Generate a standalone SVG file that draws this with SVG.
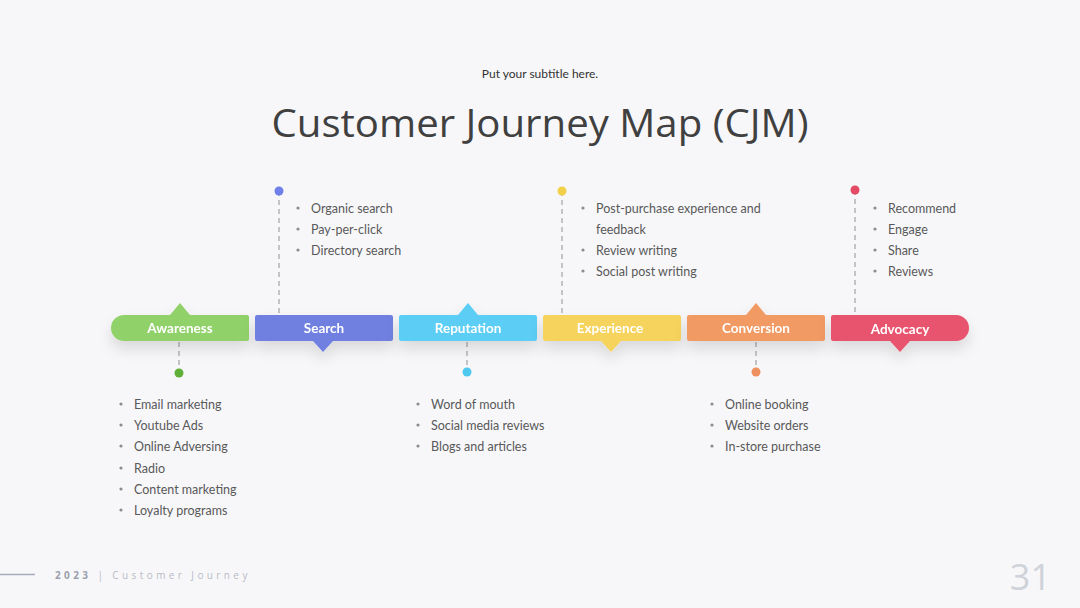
<svg xmlns="http://www.w3.org/2000/svg" width="1080" height="608" viewBox="0 0 1080 608">
<defs>
<filter id="sh" x="-20%" y="-60%" width="140%" height="260%">
<feDropShadow dx="0" dy="8" stdDeviation="7" flood-color="#000" flood-opacity="0.12"/>
</filter>
<style>
.lbl{font-family:"Lato","Open Sans",sans-serif;font-size:13.5px;font-weight:bold;fill:#fff;text-anchor:middle}
.li{font-family:"Lato","Open Sans",sans-serif;font-size:12.5px;fill:#595959}
.bul{fill:#8c8c8c}
.dash{stroke:#b4b4b8;stroke-width:1.5;stroke-dasharray:5 4;fill:none}
</style>
</defs>
<rect width="1080" height="608" fill="#f7f7f9"/>
<text x="540" y="78" font-family="Lato,'Open Sans',sans-serif" font-size="12" fill="#333" text-anchor="middle">Put your subtitle here.</text>
<text x="540" y="137" font-family="'Open Sans',sans-serif" font-size="39" fill="#404040" text-anchor="middle" textLength="537" lengthAdjust="spacingAndGlyphs">Customer Journey Map (CJM)</text>

<g id="connectors">
<line class="dash" x1="179" y1="342" x2="179" y2="373"/>
<line class="dash" x1="279" y1="191" x2="279" y2="315"/>
<line class="dash" x1="467" y1="342" x2="467" y2="372"/>
<line class="dash" x1="562" y1="191" x2="562" y2="315"/>
<line class="dash" x1="756" y1="342" x2="756" y2="372"/>
<line class="dash" x1="855" y1="190" x2="855" y2="315"/>
<circle cx="179" cy="373" r="4.5" fill="#5fb03a"/>
<circle cx="279" cy="191" r="4.5" fill="#6f80e8"/>
<circle cx="467" cy="372" r="4.5" fill="#4fc8f0"/>
<circle cx="562" cy="191" r="4.5" fill="#f2d04a"/>
<circle cx="756" cy="372" r="4.5" fill="#ef9060"/>
<circle cx="855" cy="190" r="4.5" fill="#e44a64"/>
</g>

<g id="awareness" filter="url(#sh)">
<path d="M124,315 H170 L180,303 L190,315 H247 a2,2 0 0 1 2,2 V339 a2,2 0 0 1 -2,2 H124 a13,13 0 0 1 0,-26 Z" fill="#91d16b"/>
<text class="lbl" x="180" y="333">Awareness</text>
</g>
<g id="search" filter="url(#sh)">
<path d="M257,315 H391 a2,2 0 0 1 2,2 V339 a2,2 0 0 1 -2,2 H333 L323,352 L313,341 H257 a2,2 0 0 1 -2,-2 V317 a2,2 0 0 1 2,-2 Z" fill="#7080e0"/>
<text class="lbl" x="324" y="333">Search</text>
</g>
<g id="reputation" filter="url(#sh)">
<path d="M401,315 H458 L468,303 L478,315 H535 a2,2 0 0 1 2,2 V339 a2,2 0 0 1 -2,2 H401 a2,2 0 0 1 -2,-2 V317 a2,2 0 0 1 2,-2 Z" fill="#5bcdf5"/>
<text class="lbl" x="468" y="333">Reputation</text>
</g>
<g id="experience" filter="url(#sh)">
<path d="M545,315 H679 a2,2 0 0 1 2,2 V339 a2,2 0 0 1 -2,2 H621 L611,352 L601,341 H545 a2,2 0 0 1 -2,-2 V317 a2,2 0 0 1 2,-2 Z" fill="#f5d35b"/>
<text class="lbl" x="610" y="333">Experience</text>
</g>
<g id="conversion" filter="url(#sh)">
<path d="M689,315 H746 L756,303 L766,315 H823 a2,2 0 0 1 2,2 V339 a2,2 0 0 1 -2,2 H689 a2,2 0 0 1 -2,-2 V317 a2,2 0 0 1 2,-2 Z" fill="#f29a63"/>
<text class="lbl" x="756" y="333">Conversion</text>
</g>
<g id="advocacy" filter="url(#sh)">
<path d="M833,315 H956 a13,13 0 0 1 0,26 H910 L900,352 L890,341 H833 a2,2 0 0 1 -2,-2 V317 a2,2 0 0 1 2,-2 Z" fill="#e8536e"/>
<text class="lbl" x="900" y="334">Advocacy</text>
</g>

<g id="list-search">
<circle class="bul" cx="298" cy="208" r="1.6"/><text class="li" x="311" y="213">Organic search</text>
<circle class="bul" cx="298" cy="229" r="1.6"/><text class="li" x="311" y="234">Pay-per-click</text>
<circle class="bul" cx="298" cy="250" r="1.6"/><text class="li" x="311" y="255">Directory search</text>
</g>
<g id="list-experience">
<circle class="bul" cx="583" cy="208" r="1.6"/><text class="li" x="596" y="213">Post-purchase experience and</text>
<text class="li" x="596" y="234">feedback</text>
<circle class="bul" cx="583" cy="250" r="1.6"/><text class="li" x="596" y="255">Review writing</text>
<circle class="bul" cx="583" cy="271" r="1.6"/><text class="li" x="596" y="276">Social post writing</text>
</g>
<g id="list-advocacy">
<circle class="bul" cx="875" cy="208" r="1.6"/><text class="li" x="888" y="213">Recommend</text>
<circle class="bul" cx="875" cy="229" r="1.6"/><text class="li" x="888" y="234">Engage</text>
<circle class="bul" cx="875" cy="250" r="1.6"/><text class="li" x="888" y="255">Share</text>
<circle class="bul" cx="875" cy="271" r="1.6"/><text class="li" x="888" y="276">Reviews</text>
</g>
<g id="list-awareness">
<circle class="bul" cx="121" cy="404" r="1.6"/><text class="li" x="134" y="409">Email marketing</text>
<circle class="bul" cx="121" cy="425" r="1.6"/><text class="li" x="134" y="430">Youtube Ads</text>
<circle class="bul" cx="121" cy="446" r="1.6"/><text class="li" x="134" y="451">Online Adversing</text>
<circle class="bul" cx="121" cy="468" r="1.6"/><text class="li" x="134" y="473">Radio</text>
<circle class="bul" cx="121" cy="489" r="1.6"/><text class="li" x="134" y="494">Content marketing</text>
<circle class="bul" cx="121" cy="510" r="1.6"/><text class="li" x="134" y="515">Loyalty programs</text>
</g>
<g id="list-reputation">
<circle class="bul" cx="418" cy="404" r="1.6"/><text class="li" x="431" y="409">Word of mouth</text>
<circle class="bul" cx="418" cy="425" r="1.6"/><text class="li" x="431" y="430">Social media reviews</text>
<circle class="bul" cx="418" cy="446" r="1.6"/><text class="li" x="431" y="451">Blogs and articles</text>
</g>
<g id="list-conversion">
<circle class="bul" cx="712" cy="404" r="1.6"/><text class="li" x="725" y="409">Online booking</text>
<circle class="bul" cx="712" cy="425" r="1.6"/><text class="li" x="725" y="430">Website orders</text>
<circle class="bul" cx="712" cy="446" r="1.6"/><text class="li" x="725" y="451">In-store purchase</text>
</g>

<g id="footer">
<line x1="0" y1="574.5" x2="35" y2="574.5" stroke="#a4abbb" stroke-width="1.5"/>
<text x="55" y="579" font-family="'Open Sans',sans-serif" font-size="10" letter-spacing="3.4" fill="#9aa0ad"><tspan font-weight="bold">2023</tspan><tspan fill="#b8bcc6"> | Customer Journey</tspan></text>
<text x="1051" y="590" font-family="'Open Sans',sans-serif" font-size="36" fill="#cfd3d9" text-anchor="end">31</text>
</g>
</svg>
